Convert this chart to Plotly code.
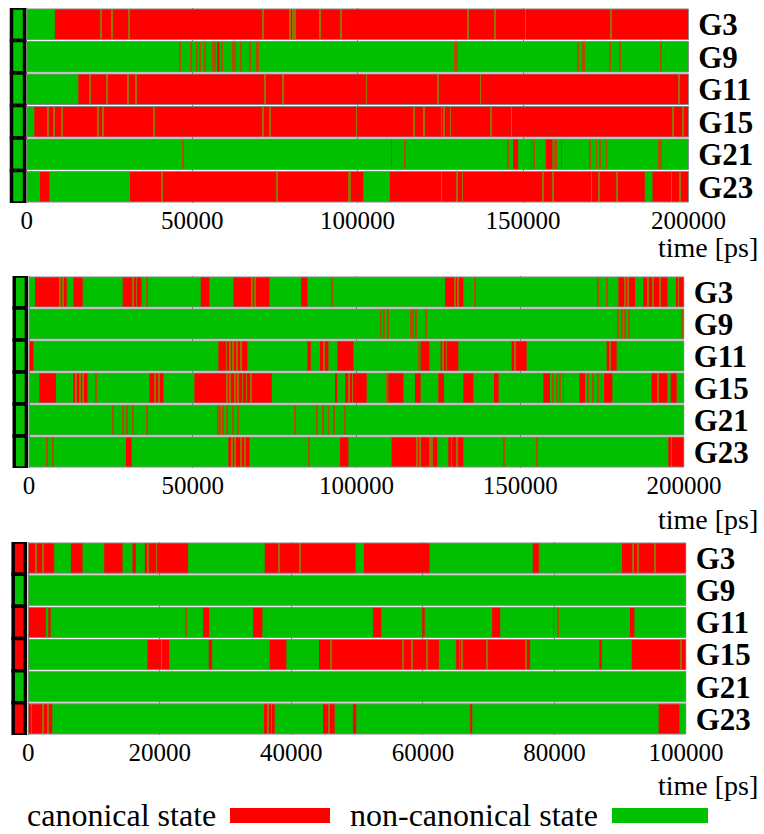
import plotly.graph_objects as go

# ---------------- data ----------------
ROWS = ["G3", "G9", "G11", "G15", "G21", "G23"]
TICKS_A = [0, 50000, 100000, 150000, 200000]
TICKS_B = [0, 20000, 40000, 60000, 80000, 100000]
T_A = 200000
T_B = 100000

# initial state of each row (C = canonical, N = non-canonical), shown in the black boxes
P1_INIT = ["N", "N", "N", "N", "N", "N"]
P2_INIT = ["N", "N", "N", "N", "N", "N"]
P3_INIT = ["C", "N", "C", "C", "N", "C"]

# canonical-state (red) intervals [start, end] in ps, and brief switches (flicks) in ps
# ---- panel 1 ----
P1_G3_CAN = [(8500, 200000)]
P1_G3_FLICK = [22450, 25680, 31020, 71500, 79550, 80360, 81060, 88620, 94960,
               133420, 141470, 150740, 176520]
P1_G9_CAN = [(57500, 58300)]
P1_G9_FLICK = [46320, 49640, 51350, 52360, 53870, 56390, 57000, 58900, 62430, 63040,
               64650, 67470, 69480, 69990, 129390, 130090, 166650, 167960, 168360,
               176210, 179230, 191620]
P1_G11_CAN = [(15600, 200000)]
P1_G11_FLICK = [19130, 24370, 30510, 33030, 72000, 77340, 102700, 124350, 137140, 197160]
P1_G15_CAN = [(2300, 200000)]
P1_G15_FLICK = [6550, 8360, 10570, 21650, 22960, 38470, 71500, 73510, 99690, 117100,
                120120, 125360, 126060, 128080, 140260, 146510, 195350, 198370]
P1_G21_CAN = [(147000, 148500), (156880, 158890)]
P1_G21_FLICK = [47130, 110250, 114280, 145500, 152550, 153260, 159600, 160100, 161610,
                170170, 172190, 173200, 175210, 191120, 191620]
P1_G23_CAN = [(4030, 6850), (31220, 101700), (109750, 186790), (189100, 200000)]
P1_G23_FLICK = [40780, 75530, 97380, 97880, 125360, 130090, 131700, 156070, 159090,
                170670, 172890, 178430, 194840, 197360]

# ---- panel 2 ----
P2_G3_CAN = [(1830, 11500), (13540, 16390), (28600, 34400), (52430, 55070), (62400, 73400),
             (83070, 85000), (127010, 132610), (179950, 185040), (187580, 194910),
             (197560, 200000)]
P2_G3_FLICK = [9470, 10500, 31800, 32800, 35940, 68000, 69000, 92430, 130000, 131000,
               136170, 173840, 176380, 182000, 183000, 189100, 190600, 192600, 198300]
P2_G9_CAN = []
P2_G9_FLICK = [107500, 108500, 109700, 116530, 117340, 118150, 121210, 179950, 180970,
               181980, 183300, 199300, 199700]
P2_G11_CAN = [(150, 1320), (57820, 66680), (85000, 86020), (88870, 91420), (94170, 99050),
              (119580, 122230), (125690, 131080), (147370, 151950), (176380, 179430)]
P2_G11_FLICK = [60300, 61300, 62300, 63500, 64800, 90100, 119170, 126500, 127500,
                148400, 177400]
P2_G15_CAN = [(3160, 8250), (13540, 17810), (36750, 41030), (50490, 74110), (93600, 94100),
              (96510, 103120), (109700, 114290), (117850, 119580), (124980, 126710),
              (132610, 135660), (141970, 143400), (157040, 159080), (168040, 169770),
              (175570, 178110), (190130, 194910), (195930, 197760)]
P2_G15_FLICK = [14300, 15500, 16500, 20460, 38400, 39700, 60370, 61400, 62900, 63900,
                65200, 66400, 67900, 97800, 98800, 109200, 160100, 161100, 162100,
                163200, 170800, 172300, 173800, 174800, 192000]
P2_G21_CAN = []
P2_G21_FLICK = [25550, 28810, 30030, 31860, 35940, 57820, 58330, 59150, 60370, 62400,
                63930, 81240, 87850, 89890, 91420, 93150, 96510]
P2_G23_CAN = [(29620, 31350), (60880, 67290), (94980, 97520), (110720, 124670),
              (128030, 132610), (195210, 200000)]
P2_G23_FLICK = [5400, 7230, 62000, 63000, 64700, 66000, 85610, 118360, 119370, 122430,
                122930, 129000, 130600, 145030, 155000, 196200]

# ---- panel 3 ----
P3_G3_CAN = [(0, 3950), (6480, 8250), (11540, 14330), (15850, 16350), (17720, 24300),
             (35950, 49770), (51030, 61010), (76710, 77620), (90280, 100000)]
P3_G3_FLICK = [1160, 2280, 18230, 19490, 38080, 41370, 91900, 92650, 95280]
P3_G9_CAN = []
P3_G9_FLICK = []
P3_G11_CAN = [(0, 2680), (3040, 3390), (26580, 27490), (34180, 35590), (52400, 53670),
              (59900, 60260), (70530, 71750), (91490, 92150)]
P3_G11_FLICK = [23950, 79850, 80500]
P3_G15_CAN = [(18130, 21420), (27440, 27950), (36710, 39240), (44200, 62430),
              (65060, 76300), (86840, 87190), (91750, 100000)]
P3_G15_FLICK = [20250, 45970, 56960, 58380, 60660, 65570, 65970, 69720, 75700, 99200]
P3_G21_CAN = []
P3_G21_FLICK = []
P3_G23_CAN = [(0, 3650), (35850, 37470), (44810, 46580), (49360, 49870), (67190, 67500),
              (95850, 98990)]
P3_G23_FLICK = [500, 2280, 3040, 36460, 36970, 45680]

# ---------------- style ----------------
RED = "#ff0000"
GREEN = "#00c000"
FLICK_ON_GREEN = "rgb(175,80,0)"
FLICK_ON_RED = "rgb(150,115,0)"
W, H = 764, 834
SERIF = "Liberation Serif"

panels = [
    dict(T=T_A, ticks=TICKS_A, init=P1_INIT,
         can=[P1_G3_CAN, P1_G9_CAN, P1_G11_CAN, P1_G15_CAN, P1_G21_CAN, P1_G23_CAN],
         flk=[P1_G3_FLICK, P1_G9_FLICK, P1_G11_FLICK, P1_G15_FLICK, P1_G21_FLICK, P1_G23_FLICK],
         xpx=(9, 689), xr=(-5350, 200150), ypx=(8, 203), box=(-4600, -650), fw=250, lab=248),
    dict(T=T_A, ticks=TICKS_A, init=P2_INIT,
         can=[P2_G3_CAN, P2_G9_CAN, P2_G11_CAN, P2_G15_CAN, P2_G21_CAN, P2_G23_CAN],
         flk=[P2_G3_FLICK, P2_G9_FLICK, P2_G11_FLICK, P2_G15_FLICK, P2_G21_FLICK, P2_G23_FLICK],
         xpx=(11, 684.5), xr=(-5500, 200150), ypx=(276, 468), box=(-4500, -800), fw=250, lab=519),
    dict(T=T_B, ticks=TICKS_B, init=P3_INIT,
         can=[P3_G3_CAN, P3_G9_CAN, P3_G11_CAN, P3_G15_CAN, P3_G21_CAN, P3_G23_CAN],
         flk=[P3_G3_FLICK, P3_G9_FLICK, P3_G11_FLICK, P3_G15_FLICK, P3_G21_FLICK, P3_G23_FLICK],
         xpx=(10, 686.5), xr=(-2780, 100080), ypx=(542, 735), box=(-2300, -450), fw=120, lab=785),
]

fig = go.Figure()
layout = {}
rows_idx = list(range(len(ROWS)))

for k, p in enumerate(panels):
    n = "" if k == 0 else str(k + 1)
    xa, ya = "x" + n, "y" + n
    common = dict(orientation="h", xaxis=xa, yaxis=ya, showlegend=False, hoverinfo="skip")

    # non-canonical background for each row
    fig.add_trace(go.Bar(y=rows_idx, x=[p["T"]] * 6, base=[0] * 6, width=0.94,
                         marker=dict(color=GREEN, line=dict(width=0)), **common))
    # canonical intervals
    ys, bs, ws = [], [], []
    for i, blocks in enumerate(p["can"]):
        for s, e in blocks:
            ys.append(i); bs.append(s); ws.append(e - s)
    fig.add_trace(go.Bar(y=ys, x=ws, base=bs, width=0.94,
                         marker=dict(color=RED, line=dict(width=0)), **common))
    # brief switches
    ys, bs, ws, cs = [], [], [], []
    for i, (blocks, fl) in enumerate(zip(p["can"], p["flk"])):
        for t in fl:
            in_can = any(s <= t < e for s, e in blocks)
            ys.append(i); bs.append(t - p["fw"] / 2); ws.append(p["fw"])
            cs.append(FLICK_ON_RED if in_can else FLICK_ON_GREEN)
    fig.add_trace(go.Bar(y=ys, x=ws, base=bs, width=0.94,
                         marker=dict(color=cs, line=dict(width=0)), **common))
    # initial-state boxes
    init = [RED if s == "C" else GREEN for s in p["init"]]
    b0, b1 = p["box"]
    fig.add_trace(go.Bar(y=rows_idx, x=[b1 - b0] * 6, base=[b0] * 6, width=1.0,
                         marker=dict(color=init, line=dict(color="black", width=3.5)), **common))
    # row outlines
    for i in rows_idx:
        fig.add_shape(type="rect", xref=xa, yref=ya, x0=0, x1=p["T"], y0=i - 0.47, y1=i + 0.47,
                      line=dict(color="#8a8a8a", width=1), layer="above")

    L, R = p["xpx"]
    top, bot = p["ypx"]
    layout["xaxis" + n] = dict(
        domain=[L / W, R / W], range=list(p["xr"]), anchor=ya, automargin=False,
        tickmode="array", tickvals=p["ticks"], ticktext=[str(v) for v in p["ticks"]],
        showgrid=True, gridcolor="#7a7a7a", gridwidth=1, zeroline=False, showline=False,
        ticks="", tickfont=dict(family=SERIF, size=25, color="black"), fixedrange=True)
    layout["yaxis" + n] = dict(
        domain=[1 - bot / H, 1 - top / H], range=[5.5, -0.5], anchor=xa, side="right",
        automargin=False,
        tickmode="array", tickvals=rows_idx, ticktext=ROWS, showgrid=False, zeroline=False,
        showline=False, ticks="outside", ticklen=2, tickcolor="rgba(0,0,0,0)",
        tickfont=dict(family=SERIF, size=31, color="black", weight="bold"), fixedrange=True)

annotations = []
for p in panels:
    annotations.append(dict(text="time [ps]", xref="paper", yref="paper", x=760 / W,
                            y=1 - p["lab"] / H, xanchor="right", yanchor="middle",
                            showarrow=False, font=dict(family=SERIF, size=28, color="black")))
# legend
annotations.append(dict(text="canonical state", xref="paper", yref="paper", x=218 / W,
                        y=1 - 815 / H, xanchor="right", yanchor="middle", showarrow=False,
                        font=dict(family=SERIF, size=32, color="black")))
annotations.append(dict(text="non-canonical state", xref="paper", yref="paper", x=600 / W,
                        y=1 - 815 / H, xanchor="right", yanchor="middle", showarrow=False,
                        font=dict(family=SERIF, size=32, color="black")))
fig.add_shape(type="rect", xref="paper", yref="paper", x0=230 / W, x1=330 / W,
              y0=1 - 823 / H, y1=1 - 808 / H, fillcolor=RED, line=dict(width=0))
fig.add_shape(type="rect", xref="paper", yref="paper", x0=612 / W, x1=708 / W,
              y0=1 - 823 / H, y1=1 - 808 / H, fillcolor=GREEN, line=dict(width=0))

fig.update_layout(width=W, height=H, autosize=False, margin=dict(l=0, r=0, t=0, b=0),
                  paper_bgcolor="white", plot_bgcolor="white", barmode="overlay",
                  annotations=annotations, **layout)

fig.write_html(
    "out.html",
    config={"responsive": False, "displayModeBar": False},
    post_script="document.body.style.margin='0px';document.body.style.overflow='hidden';",
)
